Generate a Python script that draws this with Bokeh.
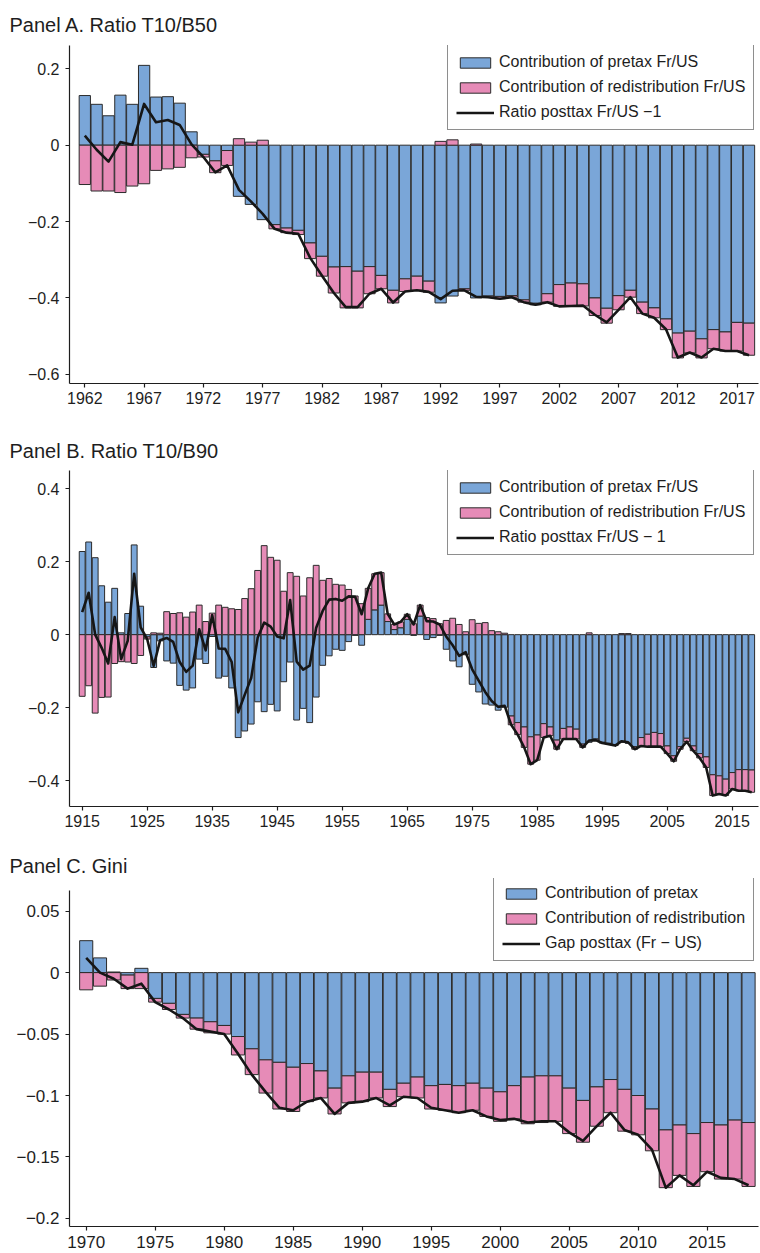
from bokeh.plotting import figure
from bokeh.layouts import column
from bokeh.models import (ColumnDataSource, FixedTicker, CustomJSTickFormatter,
                          Legend, LegendItem)
from bokeh.embed import file_html
from bokeh.resources import INLINE

# ---------------- data ----------------
years_a = list(range(1962, 2019))
pretax_a = [0.130, 0.107, 0.077, 0.131, 0.107, 0.209, 0.126, 0.127, 0.110, 0.035,
            -0.024, -0.041, -0.014, -0.134, -0.155, -0.195, -0.208, -0.217, -0.223, -0.256,
            -0.291, -0.319, -0.318, -0.330, -0.318, -0.341, -0.380, -0.350, -0.343, -0.356,
            -0.413, -0.395, -0.376, -0.400, -0.395, -0.396, -0.394, -0.405, -0.414, -0.389,
            -0.365, -0.361, -0.363, -0.400, -0.427, -0.394, -0.380, -0.411, -0.426, -0.455,
            -0.492, -0.487, -0.507, -0.483, -0.489, -0.464, -0.466]
redis_a = [-0.103, -0.120, -0.120, -0.124, -0.107, -0.101, -0.066, -0.062, -0.058, -0.033,
           -0.007, -0.031, -0.039, 0.017, 0.008, 0.013, -0.011, -0.012, -0.011, -0.041,
           -0.052, -0.068, -0.108, -0.096, -0.071, -0.035, -0.033, -0.033, -0.037, -0.029,
           0.010, 0.014, -0.004, 0.003, -0.003, -0.006, -0.004, -0.006, -0.004, -0.022,
           -0.057, -0.060, -0.058, -0.046, -0.039, -0.037, -0.018, -0.030, -0.026, -0.028,
           -0.065, -0.057, -0.050, -0.050, -0.050, -0.075, -0.084]
posttax_a = [0.025, -0.012, -0.043, 0.008, 0.001, 0.108, 0.060, 0.066, 0.053, 0.002,
             -0.031, -0.071, -0.053, -0.117, -0.147, -0.180, -0.219, -0.229, -0.232, -0.295,
             -0.342, -0.387, -0.424, -0.424, -0.389, -0.376, -0.412, -0.383, -0.380, -0.384,
             -0.403, -0.381, -0.380, -0.397, -0.398, -0.402, -0.398, -0.411, -0.418, -0.411,
             -0.422, -0.421, -0.420, -0.444, -0.464, -0.431, -0.398, -0.441, -0.452, -0.482,
             -0.556, -0.543, -0.556, -0.533, -0.539, -0.539, -0.550]

years_b = list(range(1915, 2019))
pretax_b = [0.228, 0.254, 0.211, 0.134, 0.089, 0.127, 0.005, 0.058, 0.246, 0.078,
            -0.006, -0.090, -0.017, -0.072, -0.078, -0.139, -0.152, -0.146, -0.067, -0.079,
            -0.005, -0.119, -0.114, -0.146, -0.282, -0.264, -0.245, -0.184, -0.211, -0.191,
            -0.209, -0.129, -0.075, -0.234, -0.202, -0.241, -0.171, -0.084, -0.058, -0.040,
            -0.043, -0.019, -0.002, -0.029, 0.042, 0.068, 0.081, 0.036, 0.014, 0.019,
            0.042, -0.002, 0.051, -0.013, -0.008, -0.002, -0.040, -0.072, -0.088, -0.055,
            -0.136, -0.157, -0.190, -0.193, -0.207, -0.199, -0.223, -0.241, -0.253, -0.280,
            -0.275, -0.244, -0.253, -0.289, -0.257, -0.253, -0.259, -0.300, -0.295, -0.286,
            -0.295, -0.298, -0.302, -0.295, -0.298, -0.307, -0.282, -0.273, -0.268, -0.271,
            -0.305, -0.332, -0.307, -0.284, -0.305, -0.326, -0.335, -0.384, -0.387, -0.396,
            -0.378, -0.370, -0.370, -0.371]
redis_b = [-0.169, -0.140, -0.215, -0.172, -0.171, -0.079, -0.074, -0.075, -0.079, -0.057,
           -0.006, 0.005, 0.004, 0.063, 0.058, 0.060, 0.048, 0.062, 0.081, 0.036,
           0.059, 0.081, 0.075, 0.071, 0.069, 0.099, 0.126, 0.176, 0.244, 0.212,
           0.204, 0.119, 0.170, 0.160, 0.106, 0.156, 0.190, 0.149, 0.154, 0.138,
           0.136, 0.124, 0.106, 0.085, 0.085, 0.099, 0.089, 0.021, 0.014, 0.016,
           0.014, 0.030, 0.030, 0.047, 0.044, 0.030, 0.039, 0.045, 0.028, 0.008,
           0.041, 0.031, 0.033, 0.011, 0.008, 0.004, -0.024, -0.033, -0.056, -0.075,
           -0.069, -0.038, -0.024, -0.025, -0.029, -0.033, -0.027, -0.009, 0.005, -0.003,
           -0.002, -0.002, -0.002, 0.003, 0.003, -0.007, -0.023, -0.034, -0.039, -0.036,
           -0.021, -0.015, -0.007, -0.009, -0.013, -0.012, -0.029, -0.057, -0.050, -0.045,
           -0.045, -0.058, -0.058, -0.061]
posttax_b = [0.062, 0.115, 0.000, -0.036, -0.079, 0.048, -0.067, -0.017, 0.167, 0.020,
             -0.012, -0.086, -0.015, -0.009, -0.020, -0.075, -0.102, -0.085, 0.015, -0.043,
             0.054, -0.038, -0.039, -0.075, -0.213, -0.165, -0.119, -0.008, 0.033, 0.022,
             -0.005, -0.010, 0.095, -0.074, -0.096, -0.085, 0.019, 0.065, 0.096, 0.098,
             0.093, 0.105, 0.104, 0.056, 0.127, 0.167, 0.170, 0.057, 0.028, 0.035,
             0.056, 0.028, 0.081, 0.037, 0.036, 0.028, -0.005, -0.029, -0.058, -0.048,
             -0.095, -0.126, -0.157, -0.182, -0.198, -0.195, -0.247, -0.274, -0.309, -0.355,
             -0.344, -0.282, -0.277, -0.314, -0.286, -0.286, -0.286, -0.309, -0.290, -0.289,
             -0.297, -0.300, -0.304, -0.292, -0.295, -0.314, -0.305, -0.307, -0.307, -0.307,
             -0.326, -0.347, -0.314, -0.293, -0.318, -0.338, -0.364, -0.441, -0.437, -0.441,
             -0.423, -0.428, -0.428, -0.432]

years_c = list(range(1970, 2019))
pretax_c = [0.026, 0.012, 0.0005, -0.002, 0.0035, -0.021, -0.025, -0.034, -0.037, -0.040,
            -0.043, -0.052, -0.062, -0.071, -0.073, -0.077, -0.074, -0.080, -0.094, -0.084,
            -0.081, -0.081, -0.095, -0.090, -0.085, -0.092, -0.091, -0.092, -0.090, -0.094,
            -0.097, -0.092, -0.085, -0.084, -0.084, -0.094, -0.104, -0.093, -0.087, -0.095,
            -0.100, -0.111, -0.128, -0.124, -0.131, -0.122, -0.124, -0.120, -0.122]
redis_c = [-0.014, -0.011, -0.006, -0.011, -0.013, -0.003, -0.005, -0.003, -0.009, -0.009,
           -0.007, -0.015, -0.021, -0.027, -0.038, -0.036, -0.031, -0.022, -0.021, -0.022,
           -0.024, -0.021, -0.014, -0.011, -0.017, -0.019, -0.021, -0.022, -0.022, -0.023,
           -0.024, -0.027, -0.038, -0.038, -0.037, -0.037, -0.034, -0.032, -0.027, -0.034,
           -0.032, -0.034, -0.047, -0.041, -0.043, -0.040, -0.044, -0.048, -0.052]
posttax_c = [0.012, 0.000, -0.005, -0.013, -0.009, -0.024, -0.030, -0.037, -0.046, -0.048,
             -0.050, -0.066, -0.083, -0.097, -0.110, -0.112, -0.105, -0.102, -0.115, -0.106,
             -0.105, -0.102, -0.108, -0.101, -0.102, -0.110, -0.112, -0.114, -0.112, -0.117,
             -0.120, -0.119, -0.122, -0.121, -0.121, -0.130, -0.137, -0.125, -0.114, -0.128,
             -0.132, -0.144, -0.175, -0.165, -0.173, -0.162, -0.167, -0.168, -0.173]

xticks_a = list(range(1962, 2018, 5))
xticks_b = list(range(1915, 2016, 10))
xticks_c = list(range(1970, 2016, 5))
yticks_a = [-0.6, -0.4, -0.2, 0, 0.2]
yticks_b = [-0.4, -0.2, 0, 0.2, 0.4]
yticks_c = [-0.2, -0.15, -0.1, -0.05, 0, 0.05]

# ---------------- style ----------------
BLUE = "#7AA6D8"
PINK = "#E68BB7"
EDGE = "#2b2b2b"
INK = "#1e1e1e"
FONT = "Liberation Sans"

fmt = CustomJSTickFormatter(code="""
const v = Math.round(tick*100)/100;
return (v < 0 ? '\u2212' : '') + String(Math.abs(v));
""")


def stacked(pre, red):
    pb, pt, rb, rt = [], [], [], []
    for p, r in zip(pre, red):
        pb.append(0.0); pt.append(p)
        if p * r > 0:
            rb.append(p); rt.append(p + r)
        else:
            rb.append(0.0); rt.append(r)
    return pb, pt, rb, rt


def panel(title, years, pre, red, post, xr, yr, ybounds, xticks, yticks, labels,
          height, top, bottom, standoff, tick_size, legend_loc, bar_w, xstand):
    p = figure(width=760, height=height, x_range=xr, y_range=yr,
               output_backend="svg", toolbar_location=None,
               min_border_left=69, min_border_right=2,
               min_border_top=top, min_border_bottom=bottom)
    p.outline_line_color = None
    p.grid.visible = False
    p.background_fill_color = "white"
    p.border_fill_color = "white"

    p.title.text = title
    p.title.text_font = FONT
    p.title.text_font_size = "20px"
    p.title.text_font_style = "normal"
    p.title.text_color = INK
    p.title.align = "left"
    p.title.offset = -60
    p.title.standoff = standoff

    pb, pt, rb, rt = stacked(pre, red)
    src = ColumnDataSource(dict(x=years, pb=pb, pt=pt, rb=rb, rt=rt, post=post))
    r1 = p.vbar(x="x", bottom="pb", top="pt", width=bar_w, source=src,
                fill_color=BLUE, line_color=EDGE, line_width=1)
    r2 = p.vbar(x="x", bottom="rb", top="rt", width=bar_w, source=src,
                fill_color=PINK, line_color=EDGE, line_width=1)
    r3 = p.line(x="x", y="post", source=src, line_color="#161616",
                line_width=2.6, line_join="round")

    for ax in (p.xaxis[0], p.yaxis[0]):
        ax.axis_line_color = INK
        ax.axis_line_width = 1.2
        ax.major_tick_line_color = INK
        ax.major_tick_line_width = 1.2
        ax.major_tick_out = 4
        ax.major_tick_in = 0
        ax.minor_tick_line_color = None
        ax.major_label_text_font = FONT
        ax.major_label_text_font_size = tick_size
        ax.major_label_text_color = INK
    p.xaxis.ticker = FixedTicker(ticks=xticks)
    p.yaxis.ticker = FixedTicker(ticks=yticks)
    p.yaxis.formatter = fmt
    p.yaxis.bounds = ybounds
    p.xaxis.major_label_standoff = xstand
    p.yaxis.major_label_standoff = 6

    leg = Legend(items=[LegendItem(label=labels[0], renderers=[r1]),
                        LegendItem(label=labels[1], renderers=[r2]),
                        LegendItem(label=labels[2], renderers=[r3])],
                 location=legend_loc)
    leg.margin = 0
    leg.padding = 8
    leg.spacing = 7
    leg.glyph_width = 38
    leg.glyph_height = 13
    leg.label_height = 18
    leg.label_standoff = 5
    leg.label_text_font = FONT
    leg.label_text_font_size = "16px"
    leg.label_text_color = INK
    leg.border_line_color = INK
    leg.border_line_width = 1.2
    leg.background_fill_color = "white"
    leg.background_fill_alpha = 1
    p.add_layout(leg)
    return p


pA = panel("Panel A. Ratio T10/B50", years_a, pretax_a, redis_a, posttax_a,
           (1960.71, 2018.8), (-0.624, 0.261), (-0.624, 0.261), xticks_a, yticks_a,
           ["Contribution of pretax Fr/US", "Contribution of redistribution Fr/US",
            "Ratio posttax Fr/US \u22121"],
           427, 45, 44, 19, "16px", (378, 253), 0.95, 4)

pB = panel("Panel B. Ratio T10/B90", years_b, pretax_b, redis_b, posttax_b,
           (1913.05, 2019.05), (-0.471, 0.450), (-0.471, 0.450), xticks_b, yticks_b,
           ["Contribution of pretax Fr/US", "Contribution of redistribution Fr/US",
            "Ratio posttax Fr/US \u2212 1"],
           424, 43, 45, 18, "16px", (378, 251), 0.9, 4)

pC = panel("Panel C. Gini", years_c, pretax_c, redis_c, posttax_c,
           (1968.79, 2018.72), (-0.2066, 0.0766), (-0.2066, 0.0669), xticks_c, yticks_c,
           ["Contribution of pretax", "Contribution of redistribution",
            "Gap posttax (Fr \u2212 US)"],
           402, 27, 27, 3, "17px", (424, 265), 0.95, 5)

layout = column(pA, pB, pC, spacing=0)
open("out.html", "w").write(file_html(layout, INLINE))
